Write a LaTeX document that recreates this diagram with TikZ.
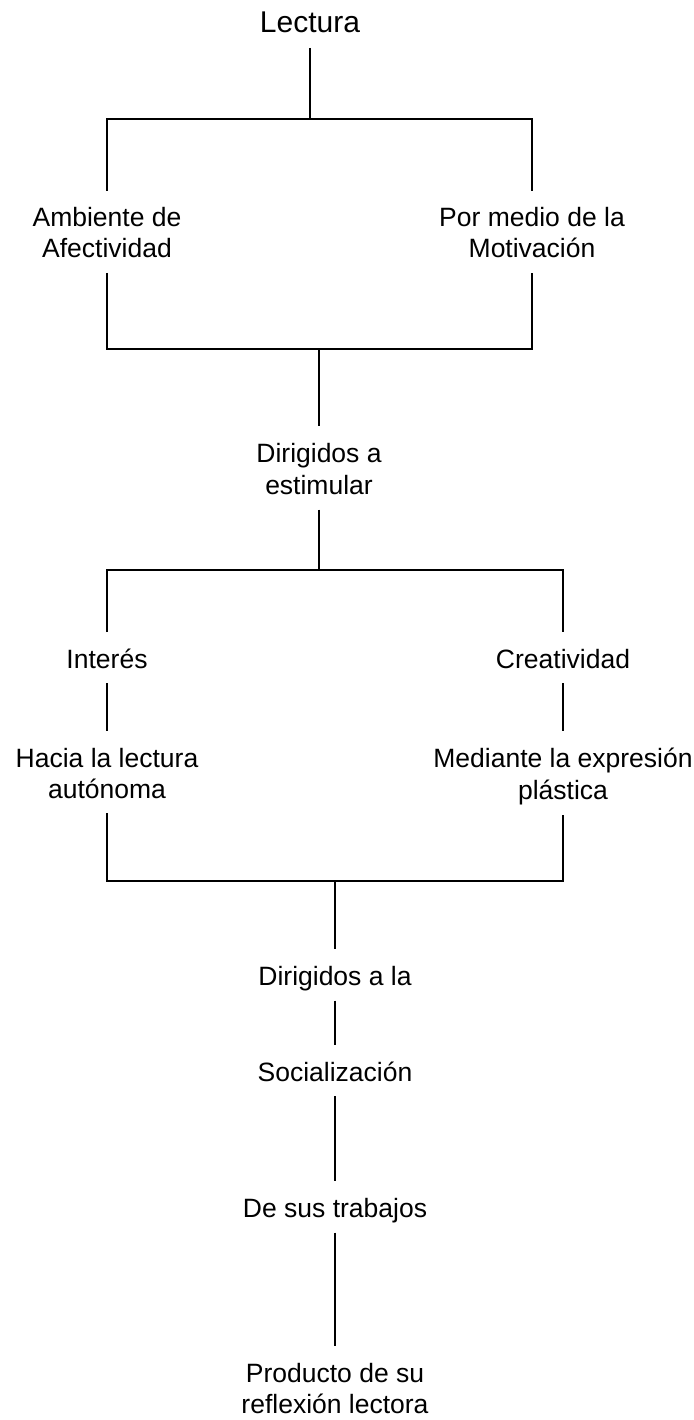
\documentclass[tikz,border=0pt]{standalone}
\usepackage{fontspec}
\setmainfont{Liberation Sans}
\newcommand\mystrut{\rule[-5pt]{0pt}{31pt}}
\tikzset{
  txt/.style={inner xsep=0pt, inner ysep=10pt, outer sep=0pt, align=center,
    font=\fontsize{26.5}{31}\selectfont},
  title/.style={inner xsep=0pt, inner ysep=10pt, outer sep=0pt,
    font=\fontsize{30}{36}\selectfont},
  conn/.style={line width=1.3pt, line join=miter, black}
}
\begin{document}
\begin{tikzpicture}[x=1pt,y=-1pt]
\useasboundingbox (0,0) rectangle (693,1420);
\node[title, anchor=south] (lect) at (310,48) {\mystrut Lectura};
\coordinate (j1) at (310,119);
\node[txt, anchor=north] (amb) at (107,191) {\mystrut Ambiente de\\\mystrut Afectividad};
\node[txt, anchor=north] (mot) at (532,191) {\mystrut Por medio de la\\\mystrut Motivación};
\coordinate (j2) at (319,349);
\node[txt, anchor=north] (dir) at (319,426) {\mystrut Dirigidos a\\\mystrut estimular};
\coordinate (j3) at (319,570);
\node[txt, anchor=north] (int) at (107,632) {\mystrut Interés};
\node[txt, anchor=north] (cre) at (563,632) {\mystrut Creatividad};
\node[txt, anchor=north] (hac) at (107,731) {\mystrut Hacia la lectura\\\mystrut autónoma};
\node[txt, anchor=north] (med) at (563,731) {\mystrut Mediante la expresión\\\mystrut plástica};
\coordinate (j4) at (335,881);
\node[txt, anchor=north] (dirla) at (335,949) {\mystrut Dirigidos a la};
\node[txt, anchor=north] (soc) at (335,1045) {\mystrut Socialización};
\node[txt, anchor=north] (des) at (335,1181) {\mystrut De sus trabajos};
\node[txt, anchor=north] (pro) at (335,1346) {\mystrut Producto de su\\\mystrut reflexión lectora};

\draw[conn] (lect.south) -- (j1);
\draw[conn] (amb.north) -- (amb.north |- j1) -- (mot.north |- j1) -- (mot.north);
\draw[conn] (amb.south) -- (amb.south |- j2) -- (mot.south |- j2) -- (mot.south);
\draw[conn] (j2) -- (dir.north);
\draw[conn] (dir.south) -- (j3);
\draw[conn] (int.north) -- (int.north |- j3) -- (cre.north |- j3) -- (cre.north);
\draw[conn] (int.south) -- (hac.north);
\draw[conn] (cre.south) -- (med.north);
\draw[conn] (hac.south) -- (hac.south |- j4) -- (med.south |- j4) -- (med.south);
\draw[conn] (j4) -- (dirla.north);
\draw[conn] (dirla.south) -- (soc.north);
\draw[conn] (soc.south) -- (des.north);
\draw[conn] (des.south) -- (pro.north);
\end{tikzpicture}
\end{document}
